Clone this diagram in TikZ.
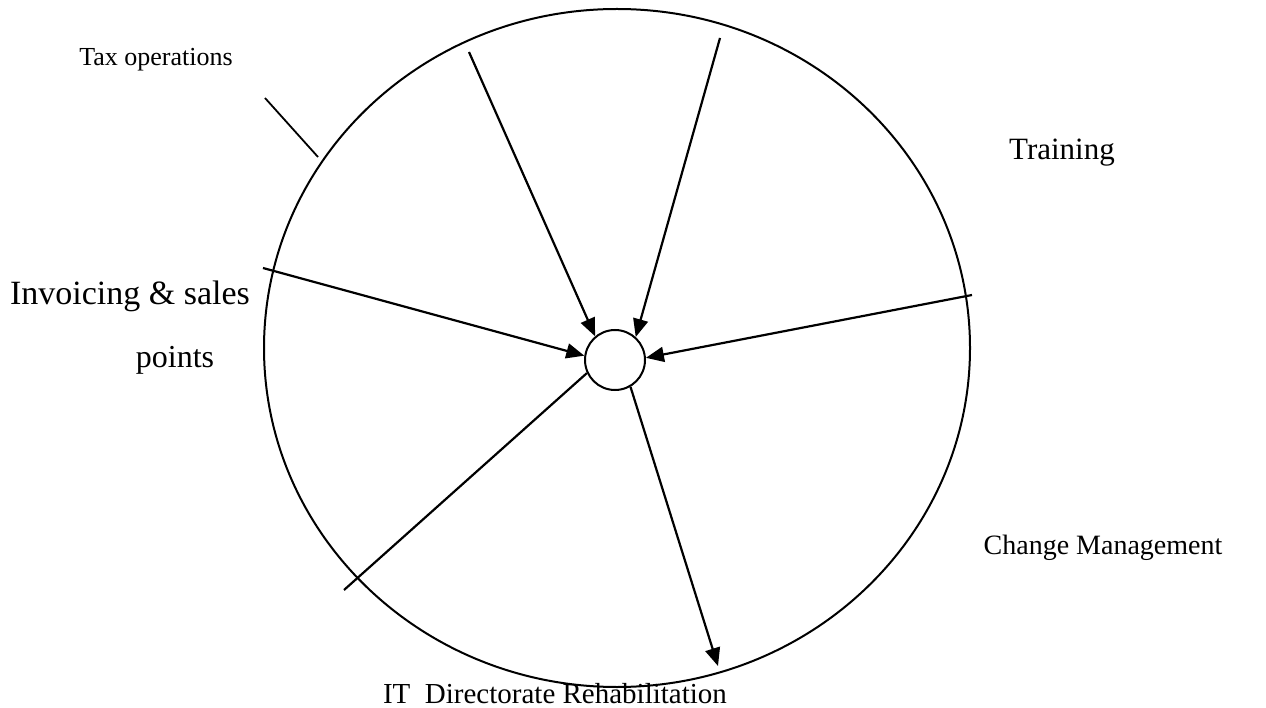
\documentclass[tikz,border=0pt]{standalone}
\usepackage{fontspec}
\setmainfont{Liberation Serif}
\usetikzlibrary{arrows.meta}
\begin{document}
\begin{tikzpicture}[x=1pt,y=-1pt,
  conn/.style={line width=2.2pt},
  arr/.style={conn,-{Triangle[length=18pt,width=15pt]}},
  lbl/.style={font=\fontsize{#1}{#1}\selectfont}]
\useasboundingbox (0,0) rectangle (1266,708);
\draw[line width=2pt] (617,348) ellipse [x radius=353, y radius=339];
\node[draw,circle,line width=2pt,minimum size=60pt,inner sep=0pt] (hub) at (615,360) {};
\coordinate (a1) at (469,52);
\coordinate (a2) at (720,38);
\coordinate (a3) at (263,268);
\coordinate (a4) at (972,295);
\coordinate (l5) at (344,590);
\coordinate (a6) at (718,666);
\coordinate (t1) at (265,98);
\coordinate (t2) at (318,157);
\draw[arr] (a1) -- (hub.130);
\draw[arr] (a2) -- (hub.48);
\draw[arr] (a3) -- (hub.172);
\draw[arr] (a4) -- (hub.4);
\draw[conn] (hub.205) -- (l5);
\draw[arr] (hub.300) -- (a6);
\draw[line width=1.8pt] (t1) -- (t2);
\node[lbl=26] (tax) at (156,60) {Tax operations};
\node[lbl=31] (train) at (1062,153) {Training};
\node[lbl=34] (inv) at (130,296) {Invoicing \& sales};
\node[lbl=32] (pts) at (175,360) {points};
\node[lbl=28] (chg) at (1103,548) {Change Management};
\node[lbl=29] (it) at (555,694) {IT\ \ Directorate Rehabilitation};
\end{tikzpicture}
\end{document}
